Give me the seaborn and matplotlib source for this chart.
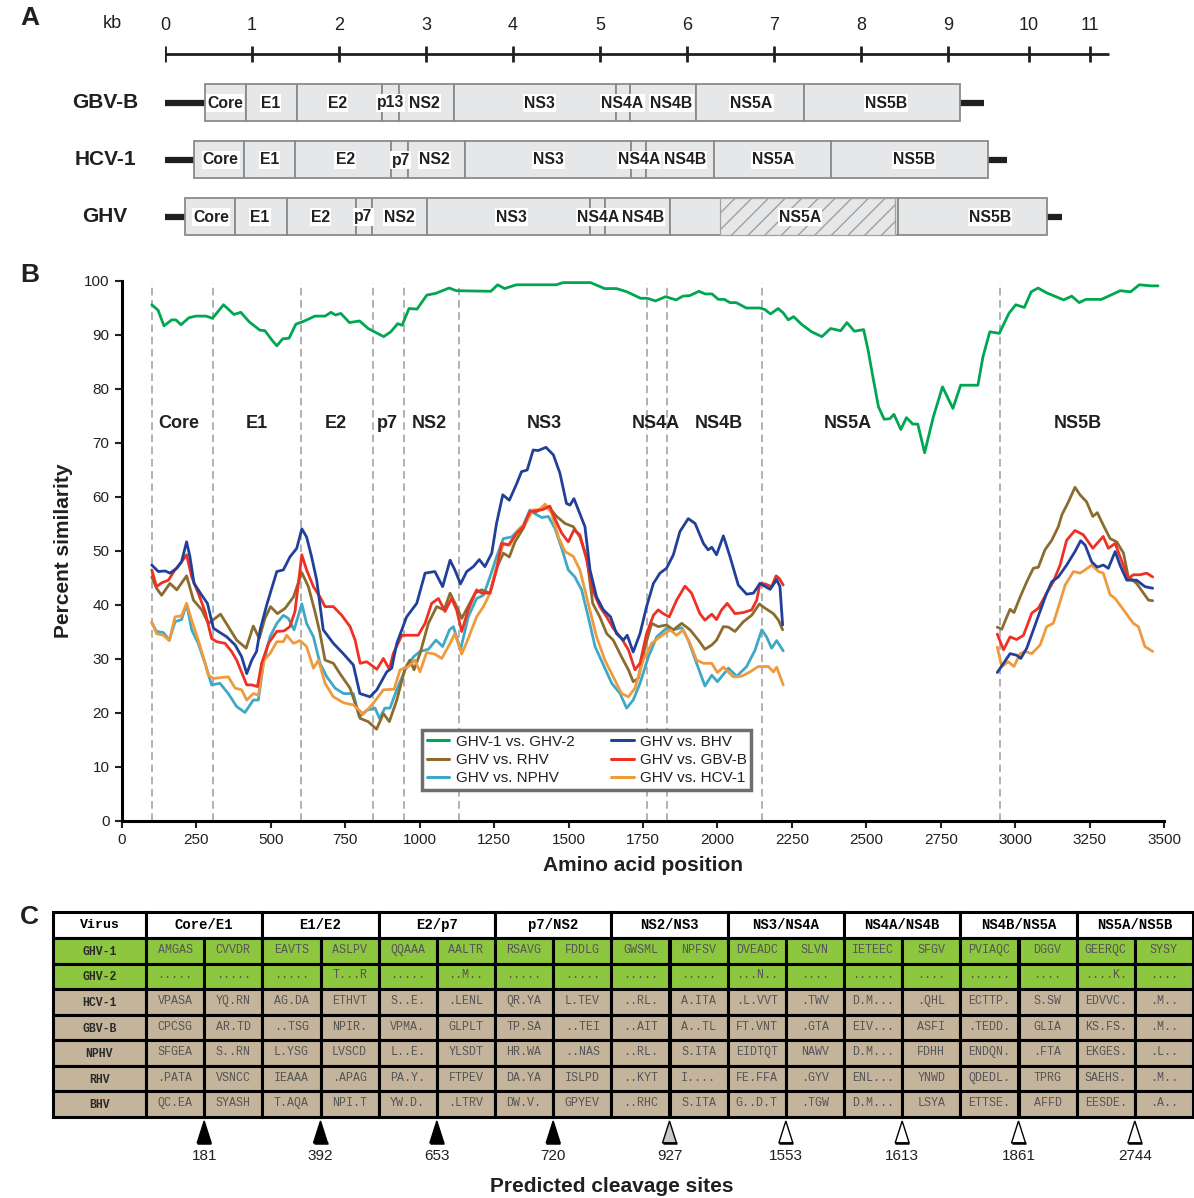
import matplotlib
matplotlib.use("Agg")
import numpy as np
import pandas as pd
import matplotlib.pyplot as plt
import seaborn as sns
from matplotlib.patches import Rectangle, Polygon

# ---------------- data: panel A (genome maps, kb) ----------------
kb_ticks = [0, 1, 2, 3, 4, 5, 6, 7, 8, 9, 9.93, 10.63]
kb_labels = ["0", "1", "2", "3", "4", "5", "6", "7", "8", "9", "10", "11"]

gbvb_names = ["Core", "E1", "E2", "p13", "NS2", "NS3", "NS4A", "NS4B", "NS5A", "NS5B"]
gbvb_bounds = [0.46, 0.93, 1.52, 2.49, 2.69, 3.32, 5.18, 5.34, 6.10, 7.34, 9.14]
gbvb_label_x = [0.69, 1.21, 1.98, 2.59, 2.98, 4.30, 5.26, 5.82, 6.74, 8.29]
gbvb_utr_end = 9.41

hcv_names = ["Core", "E1", "E2", "p7", "NS2", "NS3", "NS4A", "NS4B", "NS5A", "NS5B"]
hcv_bounds = [0.33, 0.91, 1.49, 2.60, 2.79, 3.45, 5.36, 5.53, 6.31, 7.66, 9.46]
hcv_label_x = [0.64, 1.20, 2.07, 2.71, 3.10, 4.41, 5.45, 5.98, 6.99, 8.61]
hcv_utr_end = 9.68

ghv_names = ["Core", "E1", "E2", "p7", "NS2", "NS3", "NS4A", "NS4B", "NS5A", "NS5B"]
ghv_bounds = [0.23, 0.80, 1.40, 2.20, 2.38, 3.01, 4.89, 5.06, 5.80, 8.43, 10.14]
ghv_label_x = [0.53, 1.09, 1.79, 2.28, 2.69, 3.98, 4.98, 5.49, 7.30, 9.48]
ghv_utr_end = 10.31
ghv_hatch = [6.38, 8.39]

# ---------------- data: panel B (similarity plot) ----------------
green_pos = [100,121,141,167,181,198,225,248,282,304,341,376,399,428,463,480,503,520,540,561,
             584,613,648,682,702,717,735,764,798,827,879,903,926,941,964,991,1024,1053,1099,1123,
             1239,1262,1285,1325,1459,1481,1574,1621,1661,1696,1742,1765,1792,1826,1861,1884,1907,1938,1959,1982,
             2003,2023,2042,2063,2097,2143,2160,2178,2204,2221,2238,2256,2282,2316,2351,2380,2414,2435,2460,2491,
             2506,2524,2541,2560,2579,2593,2616,2635,2656,2673,2696,2725,2756,2791,2817,2875,2892,2915,2947,2979,
             3002,3031,3054,3077,3106,3163,3190,3215,3238,3290,3353,3388,3417,3457,3480]
green_pct = [95.6,94.6,91.7,92.8,92.8,91.9,93.2,93.5,93.5,93.1,95.6,93.8,94.2,92.4,90.9,90.8,89.1,88.0,89.3,89.4,
             92.0,92.6,93.5,93.5,94.2,93.7,94.0,92.3,92.6,91.2,89.7,90.6,92.1,91.8,94.9,94.8,97.4,97.7,98.7,98.2,
             98.1,99.3,98.6,99.3,99.3,99.7,99.7,98.6,98.6,98.0,96.8,96.8,96.3,97.1,96.5,97.2,97.3,98.1,97.6,97.6,
             96.6,96.6,96.0,96.0,95.0,95.0,94.7,93.9,94.9,94.1,92.8,93.4,92.0,90.6,89.7,91.2,90.8,92.3,90.7,91.0,
             87.2,81.7,76.7,74.4,74.5,75.3,72.5,74.7,73.5,73.5,68.2,74.8,80.4,76.4,80.7,80.7,86.0,90.6,90.3,94.0,
             95.6,95.1,98.0,98.7,97.8,96.5,97.2,96.0,96.6,96.6,98.2,98.0,99.3,99.1,99.1]

blue_pos1 = [100,122,145,161,184,200,217,228,242,268,287,307,329,352,380,402,419,436,452,464,
             486,520,542,564,587,604,620,637,654,676,710,743,777,799,833,856,889,906,923,956,
             990,1018,1051,1077,1102,1118,1137,1158,1180,1200,1219,1242,1258,1279,1301,1326,1342,1361,1381,1398,
             1424,1449,1471,1493,1505,1518,1533,1555,1572,1594,1617,1641,1661,1684,1697,1717,1740,1762,1785,1807,
             1829,1852,1874,1902,1925,1953,1969,1981,1997,2020,2042,2070,2098,2121,2143,2177,2199,2210,2219]
blue_pct1 = [47.4,46.2,46.3,45.9,46.8,48.0,51.7,49.0,44.0,41.8,40.3,35.7,34.9,34.1,32.6,30.4,27.3,29.8,31.4,35.4,
             40.0,46.2,46.5,48.9,50.5,54.1,52.6,48.9,44.6,35.4,32.9,31.0,28.9,23.6,23.0,24.3,27.6,28.3,32.9,37.8,
             40.3,45.9,46.2,43.4,48.3,46.5,43.9,46.2,47.1,48.4,47.1,49.6,55.1,60.4,59.4,62.5,64.7,65.0,68.7,68.6,
             69.2,67.8,64.4,58.8,58.5,59.7,57.6,54.5,46.5,41.5,39.1,37.8,34.7,33.5,34.4,31.3,34.7,39.7,44.0,45.9,
             46.8,49.3,53.6,56.0,55.1,51.4,50.2,50.7,49.3,52.8,49.0,43.7,42.0,42.2,44.0,42.9,44.7,43.4,36.3]
blue_pos2 = [2940,2961,2983,3005,3019,3039,3073,3106,3123,3145,3173,3201,3220,3235,3257,3276,3296,3313,3336,3352,
             3375,3408,3436,3462]
blue_pct2 = [27.5,29.2,31.0,30.7,30.1,32.0,37.2,42.2,44.3,45.2,47.4,49.9,51.9,51.1,48.0,47.0,47.4,46.8,49.9,47.4,
             44.6,44.6,43.4,43.1]

red_pos1 = [100,116,133,156,178,200,217,234,256,279,301,318,346,368,385,408,419,436,455,469,
            492,520,544,564,581,604,620,643,665,682,710,738,766,783,800,822,856,878,898,911,
            940,967,995,1018,1040,1063,1085,1107,1124,1141,1163,1191,1208,1236,1258,1275,1298,1326,1348,1370,
            1398,1415,1437,1454,1477,1499,1518,1538,1561,1583,1605,1628,1650,1678,1701,1723,1740,1762,1785,1801,
            1818,1838,1863,1891,1913,1941,1958,1981,1997,2014,2033,2059,2087,2115,2132,2143,2160,2182,2197,2208,
            2221]
red_pct1 = [46.5,43.4,44.1,44.6,46.5,48.0,49.3,45.2,42.2,38.8,33.8,33.2,32.9,31.4,29.8,26.7,25.2,25.2,24.9,29.2,
            32.9,35.1,35.2,36.0,38.8,49.3,46.5,43.4,41.5,39.7,39.7,38.1,36.0,33.5,29.2,29.5,28.1,30.1,28.1,31.0,
            34.4,34.4,34.4,36.6,40.3,41.2,38.8,41.2,39.1,35.1,39.1,42.8,42.2,42.2,46.5,51.4,51.1,53.3,54.5,57.3,
            57.5,57.7,58.3,56.0,53.3,51.7,53.9,53.0,48.3,42.5,39.7,37.8,35.7,33.8,31.7,28.0,29.2,34.7,38.1,39.1,
            38.4,37.8,40.9,43.5,42.2,38.4,37.2,38.3,37.3,39.1,40.3,38.4,38.6,39.1,40.9,44.0,43.9,43.4,45.4,44.9,
            43.7]
red_pos2 = [2940,2961,2983,3005,3028,3056,3078,3106,3128,3151,3173,3201,3229,3261,3280,3296,3313,3336,3352,3380,
            3397,3420,3442,3462]
red_pct2 = [34.6,31.7,34.1,33.6,34.4,38.5,39.4,42.2,44.3,47.4,52.0,53.8,53.0,50.5,51.7,52.7,50.5,51.4,49.0,44.9,
            45.6,45.6,45.9,45.2]

brown_pos1 = [100,116,133,161,184,217,240,268,290,312,331,357,385,417,441,461,480,499,522,548,
              576,604,626,648,665,682,710,732,766,800,827,855,878,898,923,951,967,981,1001,1029,
              1057,1082,1102,1124,1141,1163,1186,1208,1236,1258,1281,1301,1320,1348,1370,1393,1421,1437,1460,1488,
              1516,1538,1561,1581,1605,1628,1650,1678,1701,1717,1734,1757,1779,1801,1829,1852,1880,1908,1936,1958,
              1981,1997,2020,2037,2059,2087,2115,2141,2160,2188,2205,2219]
brown_pct1 = [45.2,43.1,41.8,44.0,42.8,45.4,40.9,39.1,36.6,37.5,38.3,36.0,33.5,32.0,36.1,33.8,37.5,39.7,38.4,39.4,
              41.5,46.0,43.4,38.8,34.8,29.8,29.2,27.3,24.6,19.0,18.4,17.0,19.9,18.4,22.4,28.3,29.8,28.0,31.0,36.6,
              39.7,39.1,42.2,39.7,37.5,39.8,42.2,42.8,42.2,46.8,49.6,48.9,51.7,54.2,57.0,57.3,58.5,57.9,56.4,55.1,
              54.5,52.6,48.9,40.3,37.8,34.7,33.5,30.4,28.0,25.8,26.4,32.3,36.6,36.0,36.3,35.4,36.6,35.4,33.5,31.8,
              32.6,33.5,36.0,35.9,35.1,36.9,38.1,40.2,39.4,38.4,37.2,35.4]
brown_pos2 = [2940,2955,2972,2983,2996,3017,3039,3061,3078,3100,3123,3145,3157,3179,3201,3218,3240,3261,3276,3296,
              3319,3341,3364,3380,3408,3431,3448,3462]
brown_pct2 = [35.9,35.5,37.8,39.2,38.6,41.5,44.3,46.8,47.0,50.2,52.0,54.5,56.7,59.1,61.8,60.4,59.1,56.4,57.1,54.8,
              52.3,51.7,49.6,45.2,44.0,42.2,40.9,40.8]

cyan_pos = [100,116,139,159,178,200,217,234,256,279,301,329,357,385,413,441,458,475,497,520,
            542,559,578,604,620,643,665,688,716,744,777,797,822,850,865,883,900,923,951,979,
            1001,1029,1055,1077,1100,1113,1137,1163,1191,1214,1236,1258,1281,1309,1331,1348,1370,1393,1410,1432,
            1454,1477,1499,1521,1544,1566,1589,1617,1645,1673,1695,1717,1740,1768,1796,1829,1852,1880,1902,1930,
            1958,1981,2000,2037,2065,2098,2126,2149,2165,2182,2199,2221]
cyan_pct = [36.7,35.1,34.9,33.5,36.9,37.3,40.2,35.4,32.9,29.2,25.2,25.5,23.6,21.2,20.1,22.4,22.4,29.2,34.1,36.6,
            38.1,37.5,35.4,40.2,36.6,34.1,29.2,26.7,24.6,23.6,23.6,19.3,20.5,20.9,19.0,20.9,20.9,24.3,28.0,30.4,
            31.4,31.8,33.5,32.3,35.4,36.0,31.7,37.8,41.2,41.8,45.2,48.9,52.3,52.6,53.9,54.8,57.6,56.7,56.2,56.4,
            54.2,50.5,46.5,45.2,42.8,37.8,32.3,28.9,25.5,23.6,20.9,22.4,25.5,30.4,34.1,35.7,35.4,35.8,33.5,29.2,
            25.0,27.0,25.8,28.3,26.8,28.6,31.6,35.4,34.1,32.0,33.4,31.5]

orange_pos1 = [100,116,139,159,178,200,217,234,256,273,290,307,357,380,402,419,441,458,477,497,
               520,542,553,576,598,620,643,660,682,710,744,777,811,844,878,914,934,962,984,1001,
               1023,1051,1074,1102,1118,1141,1163,1191,1214,1236,1258,1281,1303,1331,1354,1381,1404,1421,1443,1466,
               1488,1516,1538,1566,1594,1622,1650,1678,1701,1723,1751,1779,1807,1841,1863,1885,1908,1930,1953,1981,
               2000,2020,2053,2081,2109,2137,2171,2188,2199,2221]
orange_pct1 = [36.9,34.7,34.4,33.4,37.8,38.0,40.3,37.2,33.5,30.4,27.0,26.4,26.7,24.6,24.3,22.4,23.6,23.3,29.8,31.0,
               33.2,33.2,34.4,32.9,33.4,32.3,28.3,29.8,25.5,23.0,21.9,21.5,19.8,21.8,24.3,24.4,28.0,28.6,29.8,27.6,
               31.2,30.9,30.1,32.9,34.7,30.9,33.8,37.8,39.7,42.2,47.1,51.4,51.1,53.9,55.0,57.6,57.7,58.7,57.0,52.6,
               49.9,49.0,46.5,40.3,34.1,29.8,26.7,23.6,23.0,24.6,29.8,32.9,34.1,35.4,34.4,35.4,32.9,29.8,29.2,29.2,
               27.5,28.5,26.7,26.8,27.6,28.6,28.6,27.6,28.5,25.2]
orange_pos2 = [2940,2955,2977,2996,3017,3033,3056,3084,3106,3128,3151,3168,3196,3218,3235,3257,3280,3296,3319,3336,
               3364,3397,3414,3436,3462]
orange_pct2 = [32.2,28.6,29.5,28.6,31.0,31.4,31.0,32.6,36.0,36.6,40.6,43.7,46.2,45.9,46.5,47.4,46.2,45.9,41.9,41.2,
               39.1,36.6,36.0,32.3,31.4]

region_bounds = [101, 306, 601, 843, 947, 1132, 1763, 1831, 2150, 2949]
region_names = ["Core", "E1", "E2", "p7", "NS2", "NS3", "NS4A", "NS4B", "NS5A", "NS5B"]
region_centers = [191, 453, 719, 890, 1031, 1417, 1794, 2005, 2439, 3211]

# ---------------- data: panel C (cleavage sites table) ----------------
junctions = ["Core/E1", "E1/E2", "E2/p7", "p7/NS2", "NS2/NS3", "NS3/NS4A",
             "NS4A/NS4B", "NS4B/NS5A", "NS5A/NS5B"]
viruses = ["GHV-1", "GHV-2", "HCV-1", "GBV-B", "NPHV", "RHV", "BHV"]
seq_ghv1 = "AMGAS CVVDR EAVTS ASLPV QQAAA AALTR RSAVG FDDLG GWSML NPFSV DVEADC SLVN IETEEC SFGV PVIAQC DGGV GEERQC SYSY"
seq_ghv2 = "..... ..... ..... T...R ..... ..M.. ..... ..... ..... ..... ...N.. .... ...... .... ...... .... ....K. ...."
seq_hcv1 = "VPASA YQ.RN AG.DA ETHVT S..E. .LENL QR.YA L.TEV ..RL. A.ITA .L.VVT .TWV D.M... .QHL ECTTP. S.SW EDVVC. .M.."
seq_gbvb = "CPCSG AR.TD ..TSG NPIR. VPMA. GLPLT TP.SA ..TEI ..AIT A..TL FT.VNT .GTA EIV... ASFI .TEDD. GLIA KS.FS. .M.."
seq_nphv = "SFGEA S..RN L.YSG LVSCD L..E. YLSDT HR.WA ..NAS ..RL. S.ITA EIDTQT NAWV D.M... FDHH ENDQN. .FTA EKGES. .L.."
seq_rhv = ".PATA VSNCC IEAAA .APAG PA.Y. FTPEV DA.YA ISLPD ..KYT I.... FE.FFA .GYV ENL... YNWD QDEDL. TPRG SAEHS. .M.."
seq_bhv = "QC.EA SYASH T.AQA NPI.T YW.D. .LTRV DW.V. GPYEV ..RHC S.ITA G..D.T .TGW D.M... LSYA ETTSE. AFFD EESDE. .A.."
row_group = ["GHV", "GHV", "other", "other", "other", "other", "other"]
cleavage_sites = [181, 392, 653, 720, 927, 1553, 1613, 1861, 2744]
site_fill = ["black", "black", "black", "black", "#c8c8c8", "white", "white", "white", "white"]

# ---------------- style ----------------
sns.set_theme(style="white")
plt.rcParams["font.family"] = ["Liberation Sans", "DejaVu Sans"]
plt.rcParams["hatch.color"] = "#9a9a9a"
TXT = "#231f20"

W, H = 1194, 1198
fig = plt.figure(figsize=(W / 100, H / 100), dpi=100)

# ================= Panel A =================
axA = fig.add_axes([165 / W, 1 - 245 / H, 957 / W, 245 / H])
axA.set_xlim(0, 11)
axA.set_ylim(245, 0)
axA.axis("off")

axA.plot([0, 10.85], [54, 54], color=TXT, lw=2, solid_capstyle="butt")
axA.vlines(kb_ticks, 46, 62, color=TXT, lw=2)
for t, lab in zip(kb_ticks, kb_labels):
    axA.text(t, 25, lab, ha="center", va="center", fontsize=13, color=TXT)
axA.text(-0.61, 23, "kb", ha="center", va="center", fontsize=13, color=TXT)

genomes = [
    ("GBV-B", 102.5, gbvb_names, gbvb_bounds, gbvb_label_x, gbvb_utr_end),
    ("HCV-1", 159.5, hcv_names, hcv_bounds, hcv_label_x, hcv_utr_end),
    ("GHV", 216.5, ghv_names, ghv_bounds, ghv_label_x, ghv_utr_end),
]
bar_h = 37
for gname, yc, names, bounds, labx, utr_end in genomes:
    axA.text(-0.69, yc, gname, ha="center", va="center", fontsize=15, fontweight="bold", color=TXT)
    axA.plot([0, bounds[0]], [yc, yc], color=TXT, lw=4.5, solid_capstyle="butt")
    axA.plot([bounds[-1], utr_end], [yc, yc], color=TXT, lw=4.5, solid_capstyle="butt")
    for i, nm in enumerate(names):
        axA.add_patch(Rectangle((bounds[i], yc - bar_h / 2), bounds[i + 1] - bounds[i], bar_h,
                                facecolor="#e6e7e8", edgecolor="#8a8a8a", lw=1.3, zorder=2))
    if gname == "GHV":
        axA.add_patch(Rectangle((ghv_hatch[0], yc - bar_h / 2), ghv_hatch[1] - ghv_hatch[0], bar_h,
                                facecolor="#e6e7e8", edgecolor="#a0a0a0", hatch="//", lw=0.9, zorder=3))
    for nm, x in zip(names, labx):
        axA.text(x, yc + 0.5, nm, ha="center", va="center", fontsize=11.3, fontweight="bold", color=TXT,
                 zorder=5, bbox=dict(facecolor="white", edgecolor="none", pad=0.8))

# ================= Panel B =================
axB = fig.add_axes([122 / W, (H - 821) / H, 1042 / W, 540 / H])

series = {
    "GHV vs. NPHV": [(cyan_pos, cyan_pct)],
    "GHV vs. RHV": [(brown_pos1, brown_pct1), (brown_pos2, brown_pct2)],
    "GHV vs. HCV-1": [(orange_pos1, orange_pct1), (orange_pos2, orange_pct2)],
    "GHV vs. GBV-B": [(red_pos1, red_pct1), (red_pos2, red_pct2)],
    "GHV vs. BHV": [(blue_pos1, blue_pct1), (blue_pos2, blue_pct2)],
    "GHV-1 vs. GHV-2": [(green_pos, green_pct)],
}
palette = {
    "GHV-1 vs. GHV-2": "#00a651",
    "GHV vs. RHV": "#8b6c2e",
    "GHV vs. NPHV": "#3fa9c5",
    "GHV vs. BHV": "#21409a",
    "GHV vs. GBV-B": "#ee3124",
    "GHV vs. HCV-1": "#f09a3e",
}
recs = []
for name, segs in series.items():
    for k, (pos, pct) in enumerate(segs):
        assert len(pos) == len(pct), (name, k, len(pos), len(pct))
        for p, v in zip(pos, pct):
            recs.append({"pos": p, "pct": v, "comparison": name, "segment": f"{name}#{k}"})
df = pd.DataFrame(recs)

for b in region_bounds:
    axB.axvline(b, ymin=0, ymax=0.996, color="#9d9d9d", lw=1.1, ls=(0, (5, 3)), zorder=1)

sns.lineplot(data=df, x="pos", y="pct", hue="comparison", units="segment", estimator=None,
             hue_order=list(series.keys()), palette=palette, sort=False, lw=2.0, ax=axB, legend=True)
for ln in axB.get_lines():
    ln.set_solid_joinstyle("round")
    ln.set_solid_capstyle("round")

for nm, c in zip(region_names, region_centers):
    axB.text(c, 73.7, nm, ha="center", va="center", fontsize=13, fontweight="bold", color=TXT)

axB.set_xlim(0, 3500)
axB.set_ylim(0, 100)
axB.set_xticks(np.arange(0, 3501, 250))
axB.set_yticks(np.arange(0, 101, 10))
axB.tick_params(axis="both", labelsize=11, colors=TXT, length=5, width=1.5, direction="out",
                bottom=True, left=True, pad=4)
for s in ["top", "right"]:
    axB.spines[s].set_visible(False)
for s in ["left", "bottom"]:
    axB.spines[s].set_linewidth(2.2)
    axB.spines[s].set_color("black")
axB.set_xlabel("Amino acid position", fontsize=15, fontweight="bold", color=TXT, labelpad=6)
axB.set_ylabel("Percent similarity", fontsize=15, fontweight="bold", color=TXT, labelpad=8)

h, l = axB.get_legend_handles_labels()
hd = dict(zip(l, h))
leg_order = ["GHV-1 vs. GHV-2", "GHV vs. RHV", "GHV vs. NPHV", "GHV vs. BHV", "GHV vs. GBV-B", "GHV vs. HCV-1"]
leg = axB.legend([hd[k] for k in leg_order], leg_order, ncol=2, loc="center",
                 bbox_to_anchor=(0.446, 0.113), frameon=True, fancybox=False, framealpha=1,
                 edgecolor="#6d6e70", fontsize=11, handlelength=1.5, handletextpad=0.4,
                 columnspacing=2.4, labelspacing=0.28, borderpad=0.3)
leg.get_frame().set_linewidth(2.5)
for t in leg.get_texts():
    t.set_color(TXT)
for ln in leg.get_lines():
    ln.set_linewidth(2.2)

# ================= Panel C =================
axC = fig.add_axes([0, 0, 1, (H - 895) / H])
axC.set_xlim(0, W)
axC.set_ylim(H, 895)
axC.axis("off")

x0, xv, x1 = 53, 146, 1193
gw = (x1 - xv) / len(junctions)
y_head, y_body = 912, 938
rh = (1117 - y_body) / len(viruses)
green, tan = "#8dc63f", "#c4b49b"
mono = ["Liberation Mono", "DejaVu Sans Mono"]
lw_tab = 2.2

axC.add_patch(Rectangle((x0, y_head), xv - x0, y_body - y_head, facecolor="white", edgecolor="black", lw=lw_tab))
axC.text((x0 + xv) / 2, (y_head + y_body) / 2, "Virus", ha="center", va="center",
         fontsize=9.5, fontweight="bold", family=mono, color="black")
for j, jn in enumerate(junctions):
    gx = xv + j * gw
    axC.add_patch(Rectangle((gx, y_head), gw, y_body - y_head, facecolor="white", edgecolor="black", lw=lw_tab))
    axC.text(gx + gw / 2, (y_head + y_body) / 2, jn, ha="center", va="center",
             fontsize=10, fontweight="bold", family=mono, color="black")

seqs = [seq_ghv1, seq_ghv2, seq_hcv1, seq_gbvb, seq_nphv, seq_rhv, seq_bhv]
for r, (vname, seq, grp) in enumerate(zip(viruses, seqs, row_group)):
    yt = y_body + r * rh
    fc = green if grp == "GHV" else tan
    axC.add_patch(Rectangle((x0, yt), xv - x0, rh, facecolor=fc, edgecolor="black", lw=lw_tab))
    axC.text((x0 + xv) / 2, yt + rh / 2 + 1, vname, ha="center", va="center",
             fontsize=8.3, fontweight="bold", family=mono, color="#2a2a2a")
    cells = seq.split(" ")
    for c, txt in enumerate(cells):
        cx = xv + c * gw / 2
        axC.add_patch(Rectangle((cx, yt), gw / 2, rh, facecolor=fc, edgecolor="black", lw=lw_tab))
        axC.text(cx + gw / 4, yt + rh / 2 - 1, txt, ha="center", va="center",
                 fontsize=8.4, family=mono, color="#555555")

for j, (site, fcol) in enumerate(zip(cleavage_sites, site_fill)):
    xs = xv + (j + 0.5) * gw
    tri = Polygon([[xs - 7, 1143], [xs + 7, 1143], [xs, 1121]], closed=True,
                  facecolor=fcol, edgecolor="black", lw=1.0)
    axC.add_patch(tri)
    axC.plot([xs - 7, xs + 7], [1143, 1143], color="black", lw=1.8, solid_capstyle="butt")
    axC.text(xs, 1156, str(site), ha="center", va="center", fontsize=11, color=TXT)
axC.text(612, 1186, "Predicted cleavage sites", ha="center", va="center",
         fontsize=15, fontweight="bold", color=TXT)

# panel letters
for lab, yy in [("A", 18), ("B", 275), ("C", 917)]:
    fig.text(20 / W, 1 - yy / H, lab, ha="left", va="center", fontsize=19, fontweight="bold", color=TXT)

fig.savefig("out.png", dpi=100)
